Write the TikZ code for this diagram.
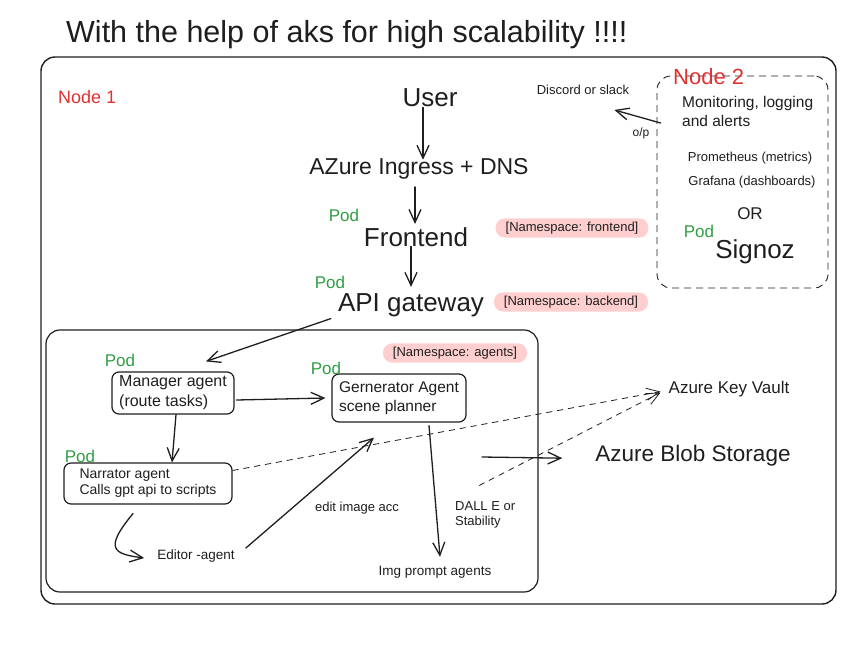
\documentclass[tikz,border=0pt]{standalone}
\usepackage{fontspec}
\setmainfont{Liberation Sans}
\definecolor{podgreen}{HTML}{2F9E44}
\definecolor{nodered}{HTML}{E03131}
\definecolor{nspink}{HTML}{FFCFCF}
\definecolor{ink}{HTML}{1E1E1E}
\usetikzlibrary{arrows.meta, positioning, calc}
\newcommand{\fs}[2]{\fontsize{#1}{#2}\selectfont}

\begin{document}
\begin{tikzpicture}[x=1pt, y=-1pt, >={Straight Barb[length=13pt,width=12pt]},
    txt/.style={inner sep=1pt, text=ink},
    pod/.style={inner sep=0pt, text=podgreen, font=\fs{17}{20}},
    ns/.style={fill=nspink, rounded corners=9pt, inner xsep=10pt, inner ysep=3.5pt,
               text=ink, font=\fs{13}{15}},
    agent/.style={draw=ink, line width=1.2pt, rounded corners=7pt, align=left,
                  inner sep=3pt, text=ink},
    flow/.style={->, draw=ink, line width=1.3pt, line cap=round},
    link/.style={->, draw=ink, line width=0.8pt, dash pattern=on 6pt off 5pt}]
      \useasboundingbox (0,0) rectangle (865,646);
      % Title
      \node[txt, anchor=base west, font=\fs{30.5}{36}] (title) at (65,42)
        {With the help of aks for high scalability !!!!};
      % Node 1
      \draw[ink, line width=1.4pt, rounded corners=14pt] (41,57) rectangle (836,604);
      \node[anchor=base west, inner sep=0pt, text=nodered, font=\fs{18}{22}] (node1) at (58,103) {Node 1};
      % Node 2 (monitoring)
      \node[draw=ink, line width=0.9pt, dash pattern=on 7pt off 5pt, rounded corners=14pt,
            minimum width=171pt, minimum height=212pt] (mbox) at (742.5,182) {};
      \node[anchor=base west, inner sep=0pt, text=nodered, font=\fs{22}{26}] (node2) at (673,84) {Node 2};
      \node[txt, anchor=north west, align=left, font=\fs{15.5}{19}] (monitor) at (681,95)
        {Monitoring, logging\\and alerts};
      \node[txt, font=\fs{13}{16}] (prom) at (750,158) {Prometheus (metrics)};
      \node[txt, font=\fs{13}{16}] (grafana) at (752,182) {Grafana (dashboards)};
      \node[txt, font=\fs{17}{20}] (or) at (750,214) {OR};
      \node[pod] (podsig) at (699,231) {Pod};
      \node[txt, anchor=base, font=\fs{26}{30}] (signoz) at (755,258) {Signoz};
      \node[txt, font=\fs{13}{16}] (discord) at (583,90) {Discord or slack};
      \node[txt, font=\fs{12}{14}] (op) at (641,133) {o/p};
      \draw[flow] ($(mbox.west)+(4,-59)$) -- ($(discord.south east)+(-16,14)$);
      % Entry path
      \node[txt, anchor=base, font=\fs{26}{30}] (user) at (430,106) {User};
      \node[txt, anchor=base, font=\fs{23}{27}] (ingress) at (419,174) {AZure Ingress + DNS};
      \node[txt, anchor=base, font=\fs{26}{30}] (frontend) at (416,246) {Frontend};
      \node[txt, anchor=base, font=\fs{26}{30}] (api) at (411,311) {API gateway};
      \node[pod] (podfe) at (344,215) {Pod};
      \node[pod] (podapi) at (330,282) {Pod};
      \node[ns] (nsfe) at (572,228) {[Namespace: frontend]};
      \node[ns] (nsbe) at (571,302) {[Namespace: backend]};
      \draw[flow] ($(user.south)+(-7,0)$) -- ($(user.south |- ingress.north)+(-7,3)$);
      \draw[flow] ($(ingress.south)+(-4,7)$) -- ($(ingress.south |- frontend.north)+(-4,-2)$);
      \draw[flow] ($(frontend.south)+(-5,-1)$) -- ($(frontend.south |- api.north)+(-5,-5)$);
      % Agents namespace
      \draw[ink, line width=1.2pt, rounded corners=14pt] (46,330) rectangle (538,592);
      \node[ns] (nsag) at (455,353) {[Namespace: agents]};
      \node[agent, minimum width=122pt, minimum height=42pt, font=\fs{16}{20}] (manager)
        at (173,393) {Manager agent\\(route tasks)};
      \node[agent, minimum width=134pt, minimum height=48pt, font=\fs{15.5}{19}] (gen)
        at (399,398) {Gernerator Agent\\scene planner};
      \node[agent, minimum width=168pt, minimum height=41pt, font=\fs{14}{16}] (narrator)
        at (148,483.5) {Narrator agent\\Calls gpt api to scripts};
      \node[pod] (podman) at (120,360) {Pod};
      \node[pod] (podgen) at (326,368) {Pod};
      \node[pod] (podnar) at (80,456) {Pod};
      \node[txt, font=\fs{13.5}{16}] (editor) at (196,556) {Editor -agent};
      \node[txt, font=\fs{13}{16}] (editlbl) at (357,508) {edit image acc};
      \node[txt, font=\fs{13.5}{16}] (img) at (435,572) {Img prompt agents};
      \node[txt, anchor=west, align=left, font=\fs{13}{15}] (dalle) at (454,515) {DALL E or\\Stability};
      \draw[flow] ($(api.south west)+(-6,1)$) -- ($(manager.north)+(33,-10)$);
      \draw[flow] ($(manager.east)+(2,7)$) -- ($(gen.west)+(-6,0)$);
      \draw[flow] ($(manager.south)+(3,0)$) -- ($(narrator.north)+(24,0)$);
      \draw[flow] ($(narrator.south)+(-15,9)$) .. controls +(-30,36) and +(-30,-4) .. ($(editor.west)+(-12,2)$);
      \draw[flow] ($(editor.east)+(10,-8)$) -- ($(gen.south)+(-25,15)$);
      \draw[flow] ($(gen.south)+(30,3)$) -- ($(img.north)+(5,-8)$);
      % Azure services
      \node[txt, anchor=base, font=\fs{17}{20}] (vault) at (729,393) {Azure Key Vault};
      \node[txt, anchor=base, font=\fs{22.5}{26}] (blob) at (693,461) {Azure Blob Storage};
      \coordinate (store) at (482,457);
      \draw[link] ($(narrator.east)+(0,-13)$) -- ($(vault.west)+(-7,3)$);
      \draw[link] ($(dalle.north)+(-6,-15)$) -- ($(vault.west)+(-7,4)$);
      \draw[flow] (store) -- ($(blob.west)+(-32,3)$);
    \end{tikzpicture}
\end{document}
